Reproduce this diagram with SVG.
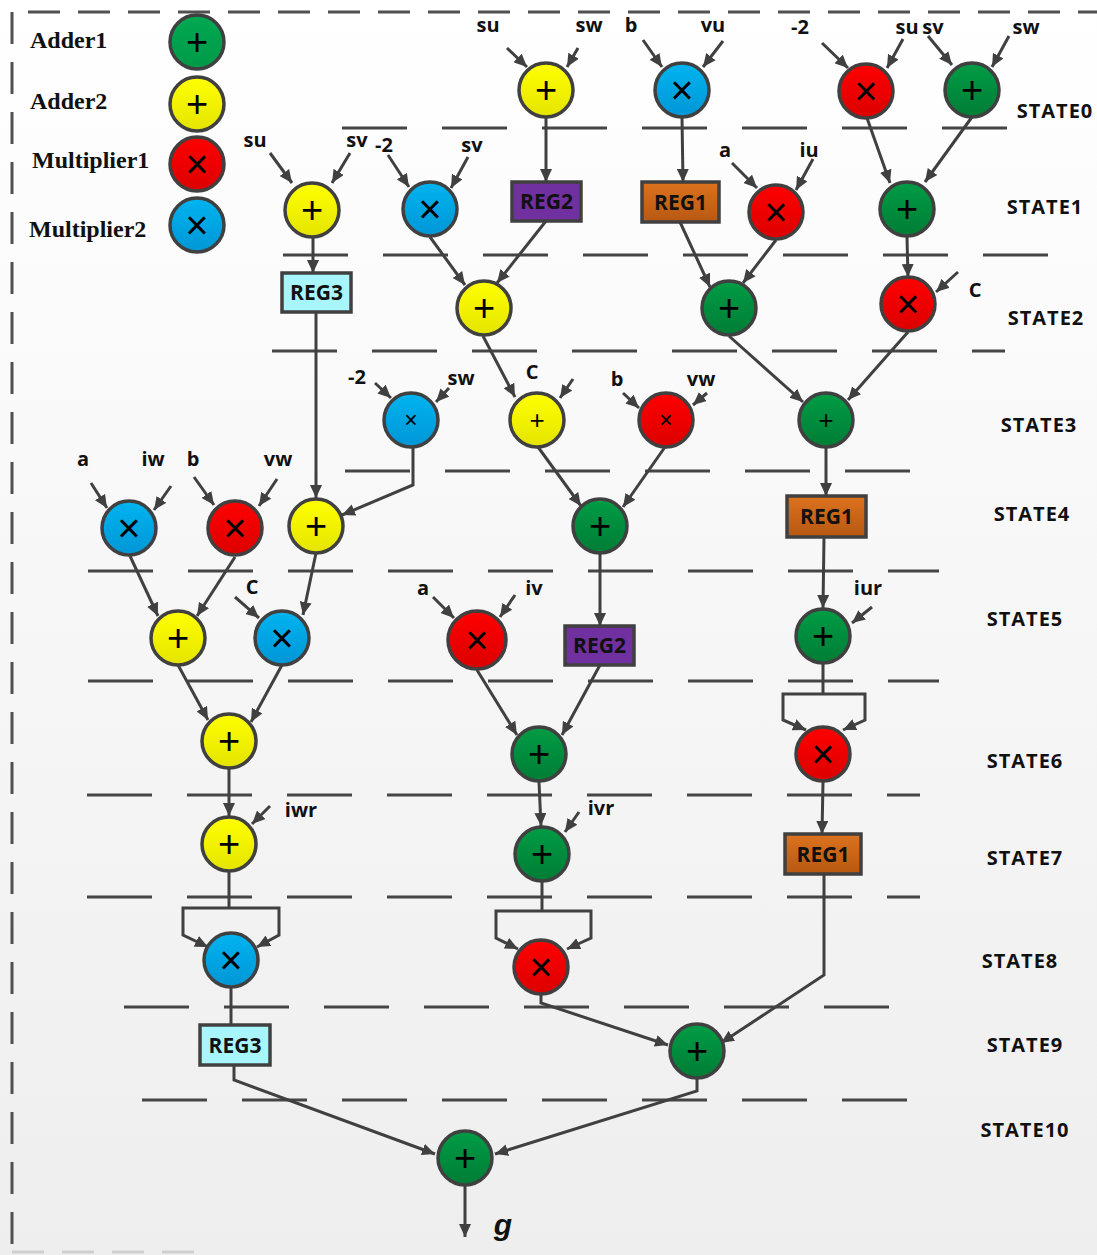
<svg xmlns="http://www.w3.org/2000/svg" width="1097" height="1255" viewBox="0 0 1097 1255">
<defs>
<linearGradient id="bg" x1="0" y1="0" x2="0" y2="1"><stop offset="0" stop-color="#ffffff"/><stop offset="1" stop-color="#eeeeee"/></linearGradient>
<linearGradient id="gG" x1="0" y1="0" x2="0" y2="1"><stop offset="0" stop-color="#009c45"/><stop offset="1" stop-color="#007d36"/></linearGradient>
<linearGradient id="gGL" x1="0" y1="0" x2="0" y2="1"><stop offset="0" stop-color="#00a852"/><stop offset="1" stop-color="#009a48"/></linearGradient>
<linearGradient id="gY" x1="0" y1="0" x2="0" y2="1"><stop offset="0" stop-color="#ffff00"/><stop offset="1" stop-color="#e4e400"/></linearGradient>
<linearGradient id="gR" x1="0" y1="0" x2="0" y2="1"><stop offset="0" stop-color="#ff0000"/><stop offset="1" stop-color="#dc0000"/></linearGradient>
<linearGradient id="gB" x1="0" y1="0" x2="0" y2="1"><stop offset="0" stop-color="#00b4f0"/><stop offset="1" stop-color="#0096d6"/></linearGradient>
<linearGradient id="gO" x1="0" y1="0" x2="0" y2="1"><stop offset="0" stop-color="#dc721e"/><stop offset="1" stop-color="#b75812"/></linearGradient>
<marker id="ah" markerUnits="userSpaceOnUse" markerWidth="14" markerHeight="12" refX="13" refY="6" orient="auto"><path d="M0,0 L13,6 L0,12 z" fill="#404040"/></marker>
<style>
.g{fill:url(#gG);stroke:#404040;stroke-width:3.5}
.gl{fill:url(#gGL);stroke:#404040;stroke-width:3.5}
.y{fill:url(#gY);stroke:#404040;stroke-width:3.5}
.r{fill:url(#gR);stroke:#404040;stroke-width:3.5}
.b{fill:url(#gB);stroke:#404040;stroke-width:3.5}
.reg1{fill:url(#gO);stroke:#404040;stroke-width:3.5}
.reg2{fill:#7030a0;stroke:#404040;stroke-width:3.5}
.reg3{fill:#a8f6fb;stroke:#404040;stroke-width:3.5}
.op{font-family:"Liberation Sans",Arial,sans-serif;font-size:38px;fill:#000;text-anchor:middle}
.opx{font-family:"Liberation Sans",Arial,sans-serif;font-size:40px;fill:#000;text-anchor:middle}
.ops{font-family:"Liberation Sans",Arial,sans-serif;font-size:26px;fill:#000;text-anchor:middle}
.opxs{font-family:"Liberation Sans",Arial,sans-serif;font-size:23px;fill:#000;text-anchor:middle}
.lbl{font-family:"Open Sans","Noto Sans",sans-serif;font-weight:bold;font-size:20px;fill:#111;text-anchor:middle}
.st{font-family:"Open Sans","Noto Sans",sans-serif;font-weight:bold;font-size:20px;fill:#111;text-anchor:middle;letter-spacing:1px}
.rt{font-family:"Open Sans","Noto Sans",sans-serif;font-weight:bold;font-size:21px;fill:#111;text-anchor:middle}
.leg{font-family:"Liberation Serif","Times New Roman",serif;font-weight:bold;font-size:24px;fill:#111}
.sep{stroke:#454545;stroke-width:3;stroke-dasharray:65 35;fill:none}
.brd{stroke:#505050;stroke-width:3;stroke-dasharray:32 18;fill:none}
.c{stroke:#404040;stroke-width:3;fill:none}
.a{stroke:#404040;stroke-width:3;fill:none;marker-end:url(#ah)}
</style>
</defs>
<rect x="0" y="0" width="1097" height="1255" fill="url(#bg)"/>
<g id="border">
<line class="brd" x1="28" y1="12" x2="1097" y2="12"/>
<line class="brd" x1="12" y1="12" x2="12" y2="1255"/>
<line x1="12" y1="1252" x2="200" y2="1252" stroke="#cfcfcf" stroke-width="3" stroke-dasharray="32 18"/>
</g>
<g id="separators">
<line class="sep" x1="342" y1="128" x2="1007" y2="128"/>
<line class="sep" x1="283" y1="255" x2="1050" y2="255"/>
<line class="sep" x1="272" y1="351" x2="1005" y2="351"/>
<line class="sep" x1="345" y1="471" x2="911" y2="471"/>
<line class="sep" x1="88" y1="571" x2="939" y2="571"/>
<line class="sep" x1="88" y1="681" x2="939" y2="681"/>
<line class="sep" x1="87" y1="795" x2="920" y2="795"/>
<line class="sep" x1="87" y1="897" x2="920" y2="897"/>
<line class="sep" x1="124" y1="1007" x2="891" y2="1007"/>
<line class="sep" x1="142" y1="1100" x2="910" y2="1100"/>
</g>
<g id="states">
<text class="st" x="1055" y="118">STATE0</text>
<text class="st" x="1045" y="214">STATE1</text>
<text class="st" x="1046" y="325">STATE2</text>
<text class="st" x="1039" y="432">STATE3</text>
<text class="st" x="1032" y="521">STATE4</text>
<text class="st" x="1025" y="626">STATE5</text>
<text class="st" x="1025" y="768">STATE6</text>
<text class="st" x="1025" y="865">STATE7</text>
<text class="st" x="1020" y="968">STATE8</text>
<text class="st" x="1025" y="1052">STATE9</text>
<text class="st" x="1025" y="1137">STATE10</text>
</g>
<g id="legend">
<text class="leg" x="30" y="48">Adder1</text>
<text class="leg" x="30" y="109">Adder2</text>
<text class="leg" x="32" y="168">Multiplier1</text>
<text class="leg" x="29" y="237">Multiplier2</text>
<g id="lg_adder1"><circle class="gl" cx="197" cy="42" r="27"/><text class="op" x="197" y="55">+</text></g>
<g id="lg_adder2"><circle class="y" cx="197" cy="104" r="27"/><text class="op" x="197" y="117">+</text></g>
<g id="lg_mult1"><circle class="r" cx="197" cy="164" r="27"/><text class="opx" x="197" y="178">×</text></g>
<g id="lg_mult2"><circle class="b" cx="197" cy="225" r="27"/><text class="opx" x="197" y="239">×</text></g>
</g>
<g id="connectors">
<line class="a" x1="507" y1="48" x2="527" y2="67"/>
<line class="a" x1="578" y1="48" x2="567" y2="67"/>
<line class="a" x1="643" y1="40" x2="662" y2="67"/>
<line class="a" x1="723" y1="41" x2="703" y2="67"/>
<line class="a" x1="822" y1="43" x2="848" y2="68"/>
<line class="a" x1="903" y1="39" x2="887" y2="68"/>
<line class="a" x1="928" y1="36" x2="952" y2="65"/>
<line class="a" x1="1009" y1="36" x2="992" y2="67"/>
<line class="a" x1="270" y1="153" x2="292" y2="183"/>
<line class="a" x1="350" y1="153" x2="332" y2="183"/>
<line class="a" x1="388" y1="155" x2="409" y2="187"/>
<line class="a" x1="468" y1="157" x2="451" y2="188"/>
<line class="a" x1="732" y1="163" x2="757" y2="188"/>
<line class="a" x1="813" y1="159" x2="796" y2="190"/>
<line class="a" x1="958" y1="272" x2="936" y2="292"/>
<line class="a" x1="375" y1="383" x2="391" y2="398"/>
<line class="a" x1="449" y1="388" x2="436" y2="402"/>
<line class="a" x1="573" y1="379" x2="560" y2="398"/>
<line class="a" x1="623" y1="393" x2="639" y2="408"/>
<line class="a" x1="707" y1="393" x2="693" y2="405"/>
<line class="a" x1="91" y1="483" x2="107" y2="508"/>
<line class="a" x1="171" y1="486" x2="154" y2="510"/>
<line class="a" x1="194" y1="477" x2="214" y2="505"/>
<line class="a" x1="277" y1="479" x2="259" y2="506"/>
<line class="a" x1="235" y1="597" x2="259" y2="618"/>
<line class="a" x1="433" y1="597" x2="454" y2="618"/>
<line class="a" x1="515" y1="595" x2="500" y2="617"/>
<line class="a" x1="872" y1="607" x2="852" y2="623"/>
<line class="a" x1="270" y1="806" x2="252" y2="824"/>
<line class="a" x1="579" y1="812" x2="565" y2="832"/>
<line class="a" x1="546" y1="118" x2="546" y2="182"/>
<line class="a" x1="682" y1="118" x2="683" y2="182"/>
<line class="a" x1="867" y1="118" x2="890" y2="183"/>
<line class="a" x1="972" y1="117" x2="925" y2="182"/>
<line class="a" x1="313" y1="238" x2="313" y2="273"/>
<line class="a" x1="430" y1="237" x2="465" y2="285"/>
<line class="a" x1="546" y1="221" x2="497" y2="283"/>
<line class="a" x1="680" y1="222" x2="710" y2="287"/>
<line class="a" x1="776" y1="240" x2="743" y2="283"/>
<line class="a" x1="907" y1="237" x2="908" y2="277"/>
<line class="a" x1="483" y1="336" x2="515" y2="397"/>
<line class="a" x1="729" y1="336" x2="803" y2="402"/>
<line class="a" x1="908" y1="332" x2="848" y2="400"/>
<line class="a" x1="316" y1="312" x2="316" y2="498"/>
<path class="a" d="M413,447 V485 L342,515"/>
<line class="a" x1="538" y1="447" x2="581" y2="506"/>
<line class="a" x1="665" y1="447" x2="623" y2="507"/>
<line class="a" x1="826" y1="447" x2="826" y2="496"/>
<line class="a" x1="130" y1="556" x2="158" y2="616"/>
<line class="a" x1="235" y1="557" x2="197" y2="616"/>
<line class="a" x1="316" y1="553" x2="303" y2="615"/>
<line class="a" x1="600" y1="553" x2="600" y2="626"/>
<line class="a" x1="824" y1="537" x2="823" y2="608"/>
<line class="a" x1="178" y1="665" x2="208" y2="720"/>
<line class="a" x1="282" y1="665" x2="251" y2="722"/>
<line class="a" x1="477" y1="670" x2="517" y2="735"/>
<line class="a" x1="600" y1="665" x2="562" y2="735"/>
<path class="c" d="M823,664 V694"/>
<path class="a" d="M823,694 H783 V720 L806,730"/>
<path class="a" d="M823,694 H865 V720 L843,730"/>
<line class="a" x1="229" y1="769" x2="229" y2="816"/>
<line class="a" x1="539" y1="782" x2="541" y2="826"/>
<line class="a" x1="823" y1="782" x2="822" y2="834"/>
<path class="c" d="M229,872 V908"/>
<path class="a" d="M229,908 H183 V935 L208,947"/>
<path class="a" d="M229,908 H279 V935 L257,947"/>
<path class="c" d="M542,882 V911"/>
<path class="a" d="M542,911 H496 V938 L518,949"/>
<path class="a" d="M542,911 H591 V938 L567,949"/>
<path class="a" d="M824,874 V975 L721,1043"/>
<path class="c" d="M231,987 V1025"/>
<path class="a" d="M541,995 V1003 L668,1045"/>
<path class="a" d="M234,1065 V1080 L435,1154"/>
<path class="a" d="M697,1078 V1091 L495,1154"/>
<path class="a" d="M465,1186 V1237"/>
</g>
<g id="labels">
<text class="lbl" x="488" y="32">su</text>
<text class="lbl" x="589" y="32">sw</text>
<text class="lbl" x="631" y="32">b</text>
<text class="lbl" x="713" y="32">vu</text>
<text class="lbl" x="800" y="34">-2</text>
<text class="lbl" x="907" y="34">su</text>
<text class="lbl" x="933" y="34">sv</text>
<text class="lbl" x="1026" y="34">sw</text>
<text class="lbl" x="255" y="147">su</text>
<text class="lbl" x="357" y="147">sv</text>
<text class="lbl" x="384" y="152">-2</text>
<text class="lbl" x="472" y="152">sv</text>
<text class="lbl" x="725" y="157">a</text>
<text class="lbl" x="809" y="157">iu</text>
<text class="lbl" x="975" y="297">C</text>
<text class="lbl" x="357" y="384">-2</text>
<text class="lbl" x="461" y="385">sw</text>
<text class="lbl" x="532" y="379">C</text>
<text class="lbl" x="617" y="386">b</text>
<text class="lbl" x="701" y="386">vw</text>
<text class="lbl" x="83" y="466">a</text>
<text class="lbl" x="153" y="466">iw</text>
<text class="lbl" x="193" y="466">b</text>
<text class="lbl" x="278" y="466">vw</text>
<text class="lbl" x="252" y="594">C</text>
<text class="lbl" x="423" y="595">a</text>
<text class="lbl" x="534" y="595">iv</text>
<text class="lbl" x="868" y="595">iur</text>
<text class="lbl" x="301" y="817">iwr</text>
<text class="lbl" x="601" y="815">ivr</text>
<text x="503" y="1235" font-family="Liberation Sans,Arial,sans-serif" font-weight="bold" font-style="italic" font-size="30" fill="#111" text-anchor="middle">g</text>
</g>
<g id="s0_add2"><circle class="y" cx="546" cy="90" r="27"/><text class="op" x="546" y="103">+</text></g>
<g id="s0_mul2"><circle class="b" cx="682" cy="90" r="27"/><text class="opx" x="682" y="104">×</text></g>
<g id="s0_mul1"><circle class="r" cx="866" cy="91" r="27"/><text class="opx" x="866" y="105">×</text></g>
<g id="s0_add1"><circle class="g" cx="972" cy="90" r="27"/><text class="op" x="972" y="103">+</text></g>
<g id="s1_add2"><circle class="y" cx="312" cy="210" r="27"/><text class="op" x="312" y="223">+</text></g>
<g id="s1_mul2"><circle class="b" cx="430" cy="209" r="27"/><text class="opx" x="430" y="223">×</text></g>
<g id="s1_reg2"><rect class="reg2" x="512" y="182" width="69" height="39"/><text class="rt" x="546.5" y="209">REG2</text></g>
<g id="s1_reg1"><rect class="reg1" x="642" y="182" width="77" height="40"/><text class="rt" x="680.5" y="209.5">REG1</text></g>
<g id="s1_mul1"><circle class="r" cx="776" cy="212" r="27"/><text class="opx" x="776" y="226">×</text></g>
<g id="s1_add1"><circle class="g" cx="907" cy="209" r="27"/><text class="op" x="907" y="222">+</text></g>
<g id="s2_reg3"><rect class="reg3" x="282" y="273" width="69" height="39"/><text class="rt" x="316.5" y="300">REG3</text></g>
<g id="s2_add2"><circle class="y" cx="484" cy="308" r="27"/><text class="op" x="484" y="321">+</text></g>
<g id="s2_add1"><circle class="g" cx="729" cy="308" r="27"/><text class="op" x="729" y="321">+</text></g>
<g id="s2_mul1"><circle class="r" cx="908" cy="304" r="27"/><text class="opx" x="908" y="318">×</text></g>
<g id="s3_mul2"><circle class="b" cx="411" cy="420" r="27"/><text class="opxs" x="411" y="428">×</text></g>
<g id="s3_add2"><circle class="y" cx="537" cy="420" r="27"/><text class="ops" x="537" y="429">+</text></g>
<g id="s3_mul1"><circle class="r" cx="666" cy="420" r="27"/><text class="opxs" x="666" y="428">×</text></g>
<g id="s3_add1"><circle class="g" cx="826" cy="420" r="27"/><text class="ops" x="826" y="429">+</text></g>
<g id="s4_mul2"><circle class="b" cx="129" cy="528" r="27"/><text class="opx" x="129" y="542">×</text></g>
<g id="s4_mul1"><circle class="r" cx="235" cy="528" r="27"/><text class="opx" x="235" y="542">×</text></g>
<g id="s4_add2"><circle class="y" cx="316" cy="526" r="27"/><text class="op" x="316" y="539">+</text></g>
<g id="s4_add1"><circle class="g" cx="600" cy="526" r="27"/><text class="op" x="600" y="539">+</text></g>
<g id="s4_reg1"><rect class="reg1" x="787" y="496" width="79" height="41"/><text class="rt" x="826.5" y="524">REG1</text></g>
<g id="s5_add2"><circle class="y" cx="178" cy="638" r="27"/><text class="op" x="178" y="651">+</text></g>
<g id="s5_mul2"><circle class="b" cx="282" cy="638" r="27"/><text class="opx" x="282" y="652">×</text></g>
<g id="s5_mul1"><circle class="r" cx="477" cy="640" r="29"/><text class="opx" x="477" y="654">×</text></g>
<g id="s5_reg2"><rect class="reg2" x="565" y="626" width="69" height="39"/><text class="rt" x="599.5" y="653">REG2</text></g>
<g id="s5_add1"><circle class="g" cx="823" cy="636" r="27"/><text class="op" x="823" y="649">+</text></g>
<g id="s6_add2"><circle class="y" cx="229" cy="741" r="27"/><text class="op" x="229" y="754">+</text></g>
<g id="s6_add1"><circle class="g" cx="539" cy="754" r="27"/><text class="op" x="539" y="767">+</text></g>
<g id="s6_mul1"><circle class="r" cx="823" cy="754" r="27"/><text class="opx" x="823" y="768">×</text></g>
<g id="s7_add2"><circle class="y" cx="229" cy="844" r="27"/><text class="op" x="229" y="857">+</text></g>
<g id="s7_add1"><circle class="g" cx="542" cy="854" r="27"/><text class="op" x="542" y="867">+</text></g>
<g id="s7_reg1"><rect class="reg1" x="785" y="834" width="76" height="40"/><text class="rt" x="823" y="861.5">REG1</text></g>
<g id="s8_mul2"><circle class="b" cx="231" cy="960" r="27"/><text class="opx" x="231" y="974">×</text></g>
<g id="s8_mul1"><circle class="r" cx="541" cy="967" r="27"/><text class="opx" x="541" y="981">×</text></g>
<g id="s9_reg3"><rect class="reg3" x="200" y="1025" width="70" height="40"/><text class="rt" x="235" y="1052.5">REG3</text></g>
<g id="s9_add1"><circle class="g" cx="697" cy="1051" r="27"/><text class="op" x="697" y="1064">+</text></g>
<g id="s10_add1"><circle class="g" cx="465" cy="1158" r="27"/><text class="op" x="465" y="1171">+</text></g>
</svg>
